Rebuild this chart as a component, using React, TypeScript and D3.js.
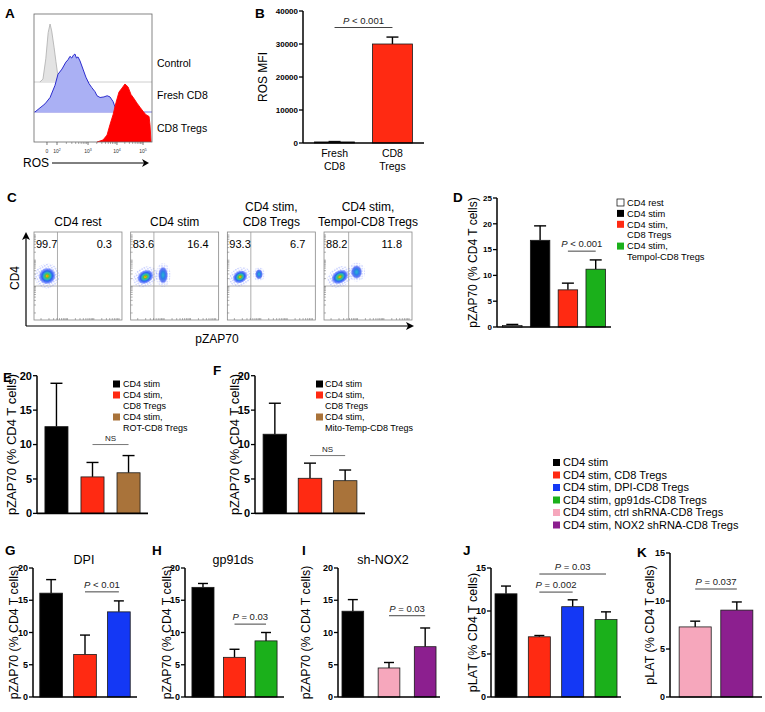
import React from 'react';
import * as d3 from 'd3';

const FONT = "'Liberation Sans', Arial, Helvetica, sans-serif";

const RED = '#ff2a12';
const BLACK = '#000000';
const BLUE = '#1438f5';
const GREEN = '#1bb01b';
const BROWN = '#a9733a';
const PINK = '#f6a7bc';
const PURPLE = '#8c1f8f';
const WHITE = '#ffffff';

// ---------- Panel A: ROS histograms (channel 0-100, normalized count 0-100)
const aControlX = [5, 7.6, 10, 12, 13.6, 15, 17, 18.6, 20, 22, 23.7];
const aControlY = [0, 5, 40, 85, 100, 88, 60, 35, 14, 5, 0];
const aFreshX = [0.8, 5, 9.3, 13.6, 17.8, 20.3, 23.7, 27, 28.8, 30.5, 32, 33.4, 34.7, 36, 37.3, 39, 41.5, 44, 46.6, 49, 51.7, 53.4, 56, 59.3, 62, 64.4, 67, 69.5, 71.2];
const aFreshY = [0, 7, 14, 25, 46, 65, 74, 86, 90, 96, 93, 98, 100, 93, 95, 88, 74, 60, 49, 42, 35, 28, 25, 26, 28, 26, 18, 4, 0];
const aTregX = [53.4, 58.5, 61.9, 64.4, 67, 69.5, 72, 74.6, 77.1, 79.7, 82.2, 84.7, 87.3, 89.8, 92.4, 94.9, 97.5, 98.3, 99.2];
const aTregY = [0, 3.5, 12, 30, 47, 68, 86, 93, 100, 95, 82, 75, 67, 60, 53, 47, 44, 30, 0];
const aLabels = ['Control', 'Fresh CD8', 'CD8 Tregs'];
const aTickPos = [11, 19.5, 45.8, 70.3, 92.4];
const aTickBase = ['0', '10', '10', '10', '10'];
const aTickExp = ['', '2', '3', '4', '5'];

// ---------- Panel B
const bCats = ['Fresh CD8', 'CD8 Tregs'];
const bCatLines = [['Fresh', 'CD8'], ['CD8', 'Tregs']];
const bValues = [320, 30000];
const bErrors = [120, 2100];
const bTicks = [0, 10000, 20000, 30000, 40000];

// ---------- Panel C: flow plots (fractions of plot box)
const cTitles = [['CD4 rest'], ['CD4 stim'], ['CD4 stim,', 'CD8 Tregs'], ['CD4 stim,', 'Tempol-CD8 Tregs']];
const cLeftPct = ['99.7', '83.6', '93.3', '88.2'];
const cRightPct = ['0.3', '16.4', '6.7', '11.8'];
const cMainX = [0.15, 0.167, 0.145, 0.18];
const cMainY = [0.5, 0.49, 0.49, 0.49];
const cMainRx = [0.095, 0.095, 0.085, 0.1];
const cMainRy = [0.1, 0.08, 0.075, 0.08];
const cSecX = [0, 0.368, 0.36, 0.37];
const cSecY = [0, 0.51, 0.52, 0.545];
const cSecRx = [0, 0.057, 0.045, 0.065];
const cSecRy = [0, 0.1, 0.06, 0.08];
const cGateX = [0.267, 0.264, 0.267, 0.28];
const cGateY = 0.386;

// ---------- Panel D
const dCats = ['CD4 rest', 'CD4 stim', 'CD4 stim, CD8 Tregs', 'CD4 stim, Tempol-CD8 Tregs'];
const dValues = [0.3, 16.8, 7.2, 11.2];
const dErrors = [0.2, 2.8, 1.3, 1.8];
const dTicks = [0, 5, 10, 15, 20, 25];

// ---------- Panel E
const eCats = ['CD4 stim', 'CD4 stim, CD8 Tregs', 'CD4 stim, ROT-CD8 Tregs'];
const eValues = [12.6, 5.3, 5.9];
const eErrors = [6.3, 2.1, 2.5];

// ---------- Panel F
const fCats = ['CD4 stim', 'CD4 stim, CD8 Tregs', 'CD4 stim, Mito-Temp-CD8 Tregs'];
const fValues = [11.5, 5.1, 4.75];
const fErrors = [4.5, 2.2, 1.55];

const ticks20 = [0, 5, 10, 15, 20];
const ticks15 = [0, 5, 10, 15];

// ---------- Panels G-K
const gCats = ['CD4 stim', 'CD4 stim, CD8 Tregs', 'CD4 stim, DPI-CD8 Tregs'];
const gValues = [16.1, 6.6, 13.2];
const gErrors = [2.1, 3.0, 1.7];
const hCats = ['CD4 stim', 'CD4 stim, CD8 Tregs', 'CD4 stim, gp91ds-CD8 Tregs'];
const hValues = [17.0, 6.15, 8.7];
const hErrors = [0.6, 1.25, 1.3];
const iCats = ['CD4 stim', 'CD4 stim, ctrl shRNA-CD8 Tregs', 'CD4 stim, NOX2 shRNA-CD8 Tregs'];
const iValues = [13.3, 4.5, 7.8];
const iErrors = [1.8, 0.85, 2.9];
const jCats = ['CD4 stim', 'CD4 stim, CD8 Tregs', 'CD4 stim, DPI-CD8 Tregs', 'CD4 stim, gp91ds-CD8 Tregs'];
const jValues = [12.0, 7.0, 10.5, 9.0];
const jErrors = [0.9, 0.15, 0.8, 0.9];
const kCats = ['CD4 stim, ctrl shRNA-CD8 Tregs', 'CD4 stim, NOX2 shRNA-CD8 Tregs'];
const kValues = [7.3, 9.05];
const kErrors = [0.6, 0.85];

const bigLegendLabels = ['CD4 stim', 'CD4 stim, CD8 Tregs', 'CD4 stim, DPI-CD8 Tregs', 'CD4 stim, gp91ds-CD8 Tregs', 'CD4 stim, ctrl shRNA-CD8 Tregs', 'CD4 stim, NOX2 shRNA-CD8 Tregs'];
const bigLegendColors = [BLACK, RED, BLUE, GREEN, PINK, PURPLE];

type PLine = { a: number; b: number; y: number; text: string };

function PText({ x, y, text, size }: { x: number; y: number; text: string; size: number }) {
  if (text.startsWith('P')) {
    return (
      <text x={x} y={y} textAnchor="middle" fontSize={size} fill="#222">
        <tspan fontStyle="italic">P</tspan>{text.slice(1)}
      </text>
    );
  }
  return <text x={x} y={y} textAnchor="middle" fontSize={size} fill="#222">{text}</text>;
}

interface BarProps {
  cats: string[]; values: number[]; errors: number[]; colors: string[];
  yDomain: [number, number]; yRange: [number, number]; yTicks: number[];
  xRange: [number, number]; padIn: number; padOut: number;
  ylabel: string; ylabelX: number; ylabelSize: number; tickSize: number;
  pLines: PLine[]; pSize: number; cap: number;
  catLines?: string[][]; catSize?: number;
}

function BarPanel(p: BarProps) {
  const x = d3.scaleBand<string>().domain(p.cats).range(p.xRange).paddingInner(p.padIn).paddingOuter(p.padOut);
  const y = d3.scaleLinear().domain(p.yDomain).range(p.yRange);
  const bw = x.bandwidth();
  const ax = p.xRange[0];
  const y0 = y(0);
  const yTop = y(p.yDomain[1]);
  const mid = (y0 + yTop) / 2;
  const cx = (i: number) => (x(p.cats[i]) as number) + bw / 2;
  return (
    <g>
      {p.cats.map((c, i) => {
        const bx = x(c) as number;
        const v = y(p.values[i]);
        const e = y(p.values[i] + p.errors[i]);
        const c0 = bx + bw / 2;
        return (
          <g key={c}>
            <line x1={c0} x2={c0} y1={v} y2={e} stroke="#000" strokeWidth={1.4} />
            <line x1={c0 - p.cap} x2={c0 + p.cap} y1={e} y2={e} stroke="#000" strokeWidth={1.4} />
            <rect x={bx} y={v} width={bw} height={y0 - v} fill={p.colors[i]} stroke="#1a1a1a" strokeWidth={0.8} />
          </g>
        );
      })}
      <line x1={ax} x2={ax} y1={y0} y2={yTop} stroke="#000" strokeWidth={1.5} />
      {p.yTicks.map((t) => (
        <g key={t}>
          <line x1={ax - 4} x2={ax} y1={y(t)} y2={y(t)} stroke="#000" strokeWidth={1.3} />
          <text x={ax - 5} y={y(t)} dy="0.35em" textAnchor="end" fontSize={p.tickSize} fontWeight="bold">{t}</text>
        </g>
      ))}
      <line x1={ax} x2={p.xRange[1]} y1={y0} y2={y0} stroke="#000" strokeWidth={1.6} />
      <text transform={`translate(${p.ylabelX},${mid}) rotate(-90)`} textAnchor="middle" dy="0.35em" fontSize={p.ylabelSize}>{p.ylabel}</text>
      {p.pLines.map((pl, k) => {
        const yy = y(pl.y);
        const xa = cx(pl.a), xb = cx(pl.b);
        return (
          <g key={k}>
            <line x1={xa} x2={xb} y1={yy} y2={yy} stroke={pl.text === 'NS' ? '#777' : '#444'} strokeWidth={1} />
            <PText x={(xa + xb) / 2} y={yy - 4} text={pl.text} size={p.pSize} />
          </g>
        );
      })}
      {p.catLines && p.catLines.map((lines, i) => (
        <g key={i}>
          {lines.map((l, j) => (
            <text key={j} x={cx(i)} y={y0 + 14 + j * 13} textAnchor="middle" fontSize={p.catSize}>{l}</text>
          ))}
        </g>
      ))}
    </g>
  );
}

function Legend({ labels, colors, sqX, textX, y0, lineH, size, sq }: { labels: string[][]; colors: string[]; sqX: number; textX: number; y0: number; lineH: number; size: number; sq: number }) {
  let row = 0;
  return (
    <g>
      {labels.map((lines, i) => {
        const yc = y0 + row * lineH;
        row += lines.length;
        return (
          <g key={i}>
            <rect x={sqX} y={yc - sq / 2} width={sq} height={sq} fill={colors[i]} stroke={colors[i] === WHITE ? '#000' : 'none'} strokeWidth={0.7} />
            {lines.map((l, j) => (
              <text key={j} x={textX} y={yc + j * lineH} dy="0.35em" fontSize={size}>{l}</text>
            ))}
          </g>
        );
      })}
    </g>
  );
}

function PanelA() {
  const x = d3.scaleLinear().domain([0, 100]).range([34, 152]);
  const bands = [
    { xs: aControlX, ys: aControlY, base: 82, fill: '#e3e3e3', stroke: '#b4b4b4', line: '#c8c8c8', ly: 63 },
    { xs: aFreshX, ys: aFreshY, base: 112, fill: '#aab0f4', stroke: '#1a1ac8', line: '#6a6ae0', ly: 95 },
    { xs: aTregX, ys: aTregY, base: 142, fill: '#ff0000', stroke: '#ff0000', line: 'none', ly: 128 },
  ];
  const minor: number[] = [];
  [19.5, 45.8, 70.3].forEach((d0, di) => {
    const w = [26.3, 24.5, 22.1][di];
    for (let k = 2; k < 10; k++) minor.push(d0 + w * Math.log10(k));
  });
  return (
    <g>
      {bands.map((b, i) => {
        const y = d3.scaleLinear().domain([0, 100]).range([b.base, b.base - 58]);
        const pts = b.xs.map((v, j) => [v, b.ys[j]] as [number, number]);
        const area = d3.area<[number, number]>().x((d) => x(d[0])).y0(b.base).y1((d) => y(d[1]));
        const line = d3.line<[number, number]>().x((d) => x(d[0])).y((d) => y(d[1]));
        return (
          <g key={i}>
            {b.line !== 'none' && <line x1={34} x2={152} y1={b.base} y2={b.base} stroke={b.line} strokeWidth={0.9} />}
            <path d={area(pts) || ''} fill={b.fill} />
            <path d={line(pts) || ''} fill="none" stroke={b.stroke} strokeWidth={0.9} />
            <text x={157} y={b.ly} dy="0.35em" fontSize={10.5}>{aLabels[i]}</text>
          </g>
        );
      })}
      <rect x={34} y={14} width={118} height={128} fill="none" stroke="#666" strokeWidth={0.8} />
      {minor.map((m, i) => (
        <line key={'m' + i} x1={x(m)} x2={x(m)} y1={142} y2={144} stroke="#555" strokeWidth={0.5} />
      ))}
      {aTickPos.map((t, i) => (
        <g key={i}>
          <line x1={x(t)} x2={x(t)} y1={142} y2={145} stroke="#444" strokeWidth={0.7} />
          <text x={x(t)} y={153} textAnchor="middle" fontSize={5} fill="#333">
            {aTickBase[i]}
            {aTickExp[i] && <tspan fontSize={3.5} dy={-2}>{aTickExp[i]}</tspan>}
          </text>
        </g>
      ))}
      <text x={23} y={163} dy="0.35em" fontSize={12}>ROS</text>
      <line x1={52} x2={146} y1={163} y2={163} stroke="#000" strokeWidth={1} />
      <path d="M149,163 L142,159 L144,163 L142,167 Z" fill="#000" />
    </g>
  );
}

function PanelC() {
  const bx = d3.scaleBand<number>().domain(d3.range(4)).range([34, 412]).paddingInner(0.09);
  const bw = bx.bandwidth();
  const top = 232, bottom = 320;
  const sy = d3.scaleLinear().domain([0, 1]).range([bottom, top]);
  const logTicks: number[] = [];
  for (let d = 0; d < 3; d++) for (let k = 1; k < 10; k++) logTicks.push(0.08 + d * 0.3 + 0.3 * Math.log10(k));
  return (
    <g>
      {cTitles.map((lines, i) => {
        const x0 = bx(i) as number;
        const sx = d3.scaleLinear().domain([0, 1]).range([x0, x0 + bw]);
        const cxm = sx(0.5);
        const mx = sx(cMainX[i]), my = sy(cMainY[i]);
        return (
          <g key={i}>
            {lines.map((l, j) => (
              <text key={j} x={cxm} y={222 - (lines.length - 1 - j) * 15} dy="0.35em" textAnchor="middle" fontSize={12}>{l}</text>
            ))}
            <rect x={x0} y={top} width={bw} height={bottom - top} fill="#fff" stroke="#888" strokeWidth={0.8} />
            {cSecRx[i] > 0 && (
              <g>
                <ellipse cx={sx(cSecX[i])} cy={sy(cSecY[i])} rx={cSecRx[i] * bw * 1.5} ry={cSecRy[i] * 88 * 1.35} fill="url(#speck)" opacity={0.55} />
                <ellipse cx={sx(cSecX[i])} cy={sy(cSecY[i])} rx={cSecRx[i] * bw} ry={cSecRy[i] * 88} fill="url(#cool)" />
              </g>
            )}
            <g transform={`rotate(-30,${mx},${my})`}>
              <ellipse cx={mx} cy={my} rx={cMainRx[i] * bw * 1.5} ry={cMainRy[i] * 88 * 1.4} fill="url(#speck)" opacity={0.65} />
              <ellipse cx={mx} cy={my} rx={cMainRx[i] * bw * 1.05} ry={cMainRy[i] * 88 * 0.95} fill="url(#hot)" />
            </g>
            <line x1={sx(cGateX[i])} x2={sx(cGateX[i])} y1={top} y2={bottom} stroke="#999" strokeWidth={0.8} />
            <line x1={x0} x2={x0 + bw} y1={sy(cGateY)} y2={sy(cGateY)} stroke="#999" strokeWidth={0.8} />
            {logTicks.map((t, k) => (
              <g key={k}>
                <line x1={x0} x2={x0 + 2} y1={sy(t)} y2={sy(t)} stroke="#666" strokeWidth={0.5} />
                <line x1={sx(t)} x2={sx(t)} y1={bottom} y2={bottom - 2} stroke="#666" strokeWidth={0.5} />
              </g>
            ))}
            <text x={x0 + 2} y={sy(0.86)} dy="0.35em" fontSize={11}>{cLeftPct[i]}</text>
            <text x={x0 + bw - 10} y={sy(0.86)} dy="0.35em" textAnchor="end" fontSize={11}>{cRightPct[i]}</text>
          </g>
        );
      })}
      <line x1={26} x2={26} y1={326} y2={238} stroke="#000" strokeWidth={1.2} />
      <path d="M26,232 L22,240 L26,238 L30,240 Z" fill="#000" />
      <line x1={26} x2={408} y1={326} y2={326} stroke="#000" strokeWidth={1.2} />
      <path d="M414,326 L406,322 L408,326 L406,330 Z" fill="#000" />
      <text transform="translate(15,278) rotate(-90)" textAnchor="middle" dy="0.35em" fontSize={12}>CD4</text>
      <text x={217} y={339} dy="0.35em" textAnchor="middle" fontSize={12}>pZAP70</text>
    </g>
  );
}

function Letter({ x, y, t }: { x: number; y: number; t: string }) {
  return <text x={x} y={y} fontSize={13.5} fontWeight="bold">{t}</text>;
}

export default function App() {
  return (
    <svg width={765} height={712} viewBox="0 0 765 712" style={{ position: 'absolute', left: 0, top: 0, background: '#fff' }} fontFamily={FONT}>
      <defs>
        <pattern id="speck" width="2.6" height="2.6" patternUnits="userSpaceOnUse">
          <rect x="0.3" y="0.3" width="1" height="1" fill="#2f4cff" />
        </pattern>
        <radialGradient id="hot">
          <stop offset="0%" stopColor="#ff3000" />
          <stop offset="9%" stopColor="#f0b000" />
          <stop offset="22%" stopColor="#58c040" />
          <stop offset="40%" stopColor="#2ab8b8" />
          <stop offset="60%" stopColor="#2a64f0" />
          <stop offset="82%" stopColor="#3050ff" stopOpacity={0.6} />
          <stop offset="100%" stopColor="#3050ff" stopOpacity={0} />
        </radialGradient>
        <radialGradient id="cool">
          <stop offset="0%" stopColor="#28b8d0" />
          <stop offset="40%" stopColor="#2a80e8" />
          <stop offset="75%" stopColor="#2a48f0" stopOpacity={0.7} />
          <stop offset="100%" stopColor="#3050ff" stopOpacity={0} />
        </radialGradient>
      </defs>
      <rect width={765} height={712} fill="#fff" />

      <Letter x={5} y={18} t="A" />
      <PanelA />

      <Letter x={255} y={18} t="B" />
      <BarPanel cats={bCats} values={bValues} errors={bErrors} colors={[BLACK, RED]}
        yDomain={[0, 40000]} yRange={[143, 11]} yTicks={bTicks}
        xRange={[303, 424]} padIn={0.31} padOut={0.2}
        ylabel="ROS MFI" ylabelX={263} ylabelSize={12} tickSize={8}
        pLines={[{ a: 0, b: 1, y: 35000, text: 'P < 0.001' }]} pSize={9.5} cap={6}
        catLines={bCatLines} catSize={10.5} />

      <Letter x={7} y={202} t="C" />
      <PanelC />

      <Letter x={453} y={202} t="D" />
      <BarPanel cats={dCats} values={dValues} errors={dErrors} colors={[WHITE, BLACK, RED, GREEN]}
        yDomain={[0, 25]} yRange={[327, 198]} yTicks={dTicks}
        xRange={[497, 611]} padIn={0.3} padOut={0.2}
        ylabel="pZAP70 (% CD4 T cells)" ylabelX={473} ylabelSize={12} tickSize={8}
        pLines={[{ a: 2, b: 3, y: 14.7, text: 'P < 0.001' }]} pSize={9.5} cap={6} />
      <Legend labels={[['CD4 rest'], ['CD4 stim'], ['CD4 stim,', 'CD8 Tregs'], ['CD4 stim,', 'Tempol-CD8 Tregs']]}
        colors={[WHITE, BLACK, RED, GREEN]} sqX={617} textX={627} y0={202.5} lineH={10.9} size={9.3} sq={7} />

      <Letter x={3} y={382} t="E" />
      <BarPanel cats={eCats} values={eValues} errors={eErrors} colors={[BLACK, RED, BROWN]}
        yDomain={[0, 20]} yRange={[513.4, 375.7]} yTicks={ticks20}
        xRange={[37, 148]} padIn={0.36} padOut={0.22}
        ylabel="pZAP70 (% CD4 T cells)" ylabelX={11} ylabelSize={13} tickSize={11}
        pLines={[{ a: 1, b: 2, y: 10, text: 'NS' }]} pSize={8} cap={6} />
      <Legend labels={[['CD4 stim'], ['CD4 stim,', 'CD8 Tregs'], ['CD4 stim,', 'ROT-CD8 Tregs']]}
        colors={[BLACK, RED, BROWN]} sqX={113} textX={123} y0={384} lineH={11} size={9} sq={7} />

      <Letter x={213} y={375} t="F" />
      <BarPanel cats={fCats} values={fValues} errors={fErrors} colors={[BLACK, RED, BROWN]}
        yDomain={[0, 20]} yRange={[513.4, 375.7]} yTicks={ticks20}
        xRange={[255, 365]} padIn={0.33} padOut={0.23}
        ylabel="pZAP70 (% CD4 T cells)" ylabelX={234} ylabelSize={13} tickSize={11}
        pLines={[{ a: 1, b: 2, y: 8.4, text: 'NS' }]} pSize={8} cap={6} />
      <Legend labels={[['CD4 stim'], ['CD4 stim,', 'CD8 Tregs'], ['CD4 stim,', 'Mito-Temp-CD8 Tregs']]}
        colors={[BLACK, RED, BROWN]} sqX={316} textX={325} y0={384} lineH={11} size={9} sq={7} />

      <Legend labels={bigLegendLabels.map((l) => [l])} colors={bigLegendColors}
        sqX={553} textX={563} y0={462.5} lineH={12.5} size={11} sq={7} />

      <Letter x={5} y={555} t="G" />
      <text x={84} y={560} dy="0.35em" textAnchor="middle" fontSize={12.5}>DPI</text>
      <BarPanel cats={gCats} values={gValues} errors={gErrors} colors={[BLACK, RED, BLUE]}
        yDomain={[0, 20]} yRange={[697, 568]} yTicks={ticks20}
        xRange={[33, 137]} padIn={0.33} padOut={0.2}
        ylabel="pZAP70 (% CD4 T cells)" ylabelX={14} ylabelSize={12.3} tickSize={9}
        pLines={[{ a: 1, b: 2, y: 16.3, text: 'P < 0.01' }]} pSize={9.5} cap={5} />

      <Letter x={152} y={555} t="H" />
      <text x={233} y={560} dy="0.35em" textAnchor="middle" fontSize={12.5}>gp91ds</text>
      <BarPanel cats={hCats} values={hValues} errors={hErrors} colors={[BLACK, RED, GREEN]}
        yDomain={[0, 20]} yRange={[697, 568]} yTicks={ticks20}
        xRange={[185, 284]} padIn={0.3} padOut={0.22}
        ylabel="pZAP70 (% CD4 T cells)" ylabelX={167} ylabelSize={12.3} tickSize={9}
        pLines={[{ a: 1, b: 2, y: 11.3, text: 'P = 0.03' }]} pSize={9.5} cap={5} />

      <Letter x={302} y={555} t="I" />
      <text x={383} y={560} dy="0.35em" textAnchor="middle" fontSize={12.5}>sh-NOX2</text>
      <BarPanel cats={iCats} values={iValues} errors={iErrors} colors={[BLACK, PINK, PURPLE]}
        yDomain={[0, 20]} yRange={[697, 568]} yTicks={ticks20}
        xRange={[338, 440]} padIn={0.4} padOut={0.11}
        ylabel="pZAP70 (% CD4 T cells)" ylabelX={306} ylabelSize={12.3} tickSize={9}
        pLines={[{ a: 1, b: 2, y: 12.6, text: 'P = 0.03' }]} pSize={9.5} cap={5} />

      <Letter x={463} y={555} t="J" />
      <BarPanel cats={jCats} values={jValues} errors={jErrors} colors={[BLACK, RED, BLUE, GREEN]}
        yDomain={[0, 15]} yRange={[697, 568]} yTicks={ticks15}
        xRange={[491, 621]} padIn={0.34} padOut={0.12}
        ylabel="pLAT (% CD4 T cells)" ylabelX={473} ylabelSize={12.5} tickSize={9}
        pLines={[{ a: 1, b: 2, y: 12.2, text: 'P = 0.002' }, { a: 1, b: 3, y: 14.3, text: 'P = 0.03' }]} pSize={9.5} cap={5} />

      <Letter x={637} y={557} t="K" />
      <BarPanel cats={kCats} values={kValues} errors={kErrors} colors={[PINK, PURPLE]}
        yDomain={[0, 15]} yRange={[697, 553]} yTicks={ticks15}
        xRange={[670, 762]} padIn={0.23} padOut={0.22}
        ylabel="pLAT (% CD4 T cells)" ylabelX={650} ylabelSize={12.5} tickSize={9}
        pLines={[{ a: 0, b: 1, y: 11.25, text: 'P = 0.037' }]} pSize={9.5} cap={5} />
    </svg>
  );
}
